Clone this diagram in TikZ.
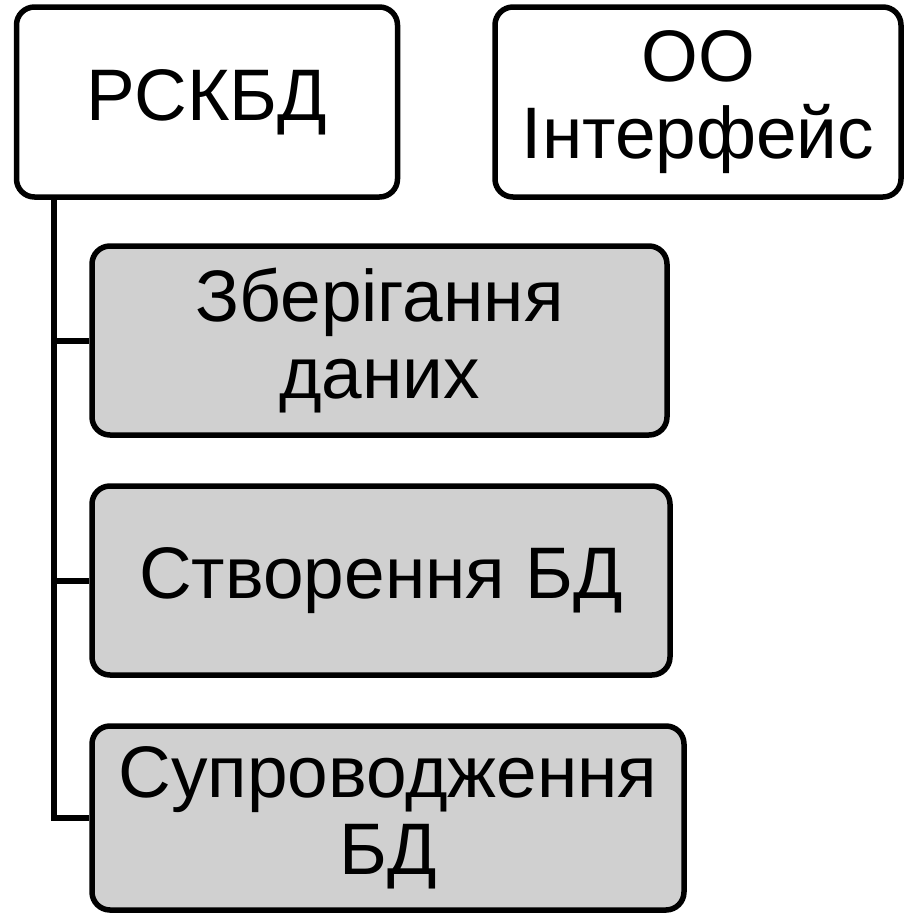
\documentclass[tikz,border=0pt]{standalone}
\usepackage{fontspec}
\setmainfont{Liberation Sans}
\begin{document}
\begin{tikzpicture}[x=1pt,y=-1pt,
  box/.style={draw=black, line width=5.5pt, rounded corners=18pt, inner sep=0pt,
    align=center, font=\fontsize{73}{77}\selectfont},
  wbox/.style={box, fill=white},
  gbox/.style={box, fill=boxgray},
  conn/.style={draw=black, line width=6pt}]
\definecolor{boxgray}{RGB}{208,208,208}
\useasboundingbox (0,0) rectangle (904,916);
\fill[white] (0,0) rectangle (904,916);
% top boxes
\node[wbox, minimum width=381pt, minimum height=190pt] (A) at (207,102) {РСКБД};
\node[wbox, minimum width=406pt, minimum height=190pt] (B) at (698,102) {ОО\\Інтерфейс};
% child boxes
\node[gbox, minimum width=575pt, minimum height=189pt] (c1) at (379.5,340.5) {Зберігання\\даних};
\node[gbox, minimum width=578pt, minimum height=189pt] (c2) at (381,580.5) {Створення БД};
\node[gbox, minimum width=592pt, minimum height=184pt] (c3) at (388,818) {Супроводження\\БД};
% connectors
\coordinate (t0) at (54,197);
\draw[conn] (t0) |- (c3.west);
\draw[conn] (t0 |- c1.west) -- (c1.west);
\draw[conn] (t0 |- c2.west) -- (c2.west);
\end{tikzpicture}
\end{document}
